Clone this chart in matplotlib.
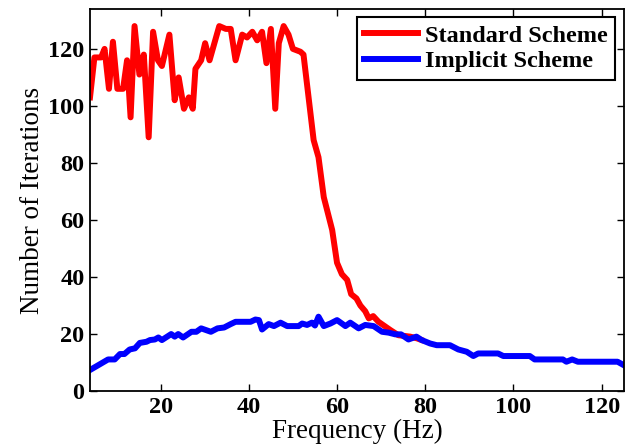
import numpy as np
import matplotlib.pyplot as plt

plt.rcParams['font.family'] = ['Liberation Serif', 'DejaVu Serif']
plt.rcParams['font.weight'] = 'bold'

# Standard scheme (red), vertices
std_freq = [4, 5, 6.5, 7.3, 8.3, 9.2, 10.2, 11.5, 12.4, 13.2, 14.1, 15.2, 16.2,
            17.3, 18.3, 19.4, 20.3, 22, 23.2, 24.1, 25.3, 26.4, 27.3, 27.9, 29.2,
            30.1, 31.1, 33.3, 34.8, 35.9, 37, 38.5, 39.6, 40.8, 41.9, 43, 44, 45,
            46, 46.8, 47.9, 49, 50, 51.7, 52.4, 54.7, 55.8, 57, 58.9, 60, 61.1,
            62.3, 63.2, 64.4, 65.3, 66.4, 67.2, 68.2, 69.4, 72.1, 73.9, 76.6,
            78.1, 79]
std_iter = [103, 117, 117, 120, 106, 122.5, 106, 106, 116, 96, 128, 111, 118,
            89, 126, 116, 114, 125, 102, 110, 99, 103, 99, 113, 116,
            122, 116, 128, 127, 127, 116, 125, 124, 126, 123, 126, 115, 127,
            99, 122, 128, 125, 120, 119, 118, 88, 82, 68, 56.5, 45, 41,
            39, 34, 32.5, 30, 28, 25.5, 26.3, 24.3, 21.4, 19.6, 19.1,
            18.5, 18]

# Implicit scheme (blue)
imp_freq = [4, 8.1, 9.6, 10.8, 11.8, 13, 14.2, 15.3, 16.8, 17.6, 18.7, 19.5,
            20.3, 22.4, 23.2, 24, 25.1, 27, 28.1, 29.2, 30.3, 31.4, 32.9, 34.4,
            35.9, 37, 40.4, 41.5, 42.3, 43, 44.5, 45.7, 47.2, 48.7, 51.3, 52.1,
            53.2, 54.3, 55, 55.8, 57, 58.5, 60, 61.1, 61.9, 63, 64.9, 66.4, 68.3,
            70.2, 71.7, 73.2, 74.5, 76.2, 78, 79.2, 81.1, 82.6, 85.6, 87.5, 89.4,
            90.9, 92, 96.5, 97.7, 103.7, 104.8, 111.2, 112, 113.3, 114.6, 123.6,
            125]
imp_iter = [7.4, 11.1, 11.1, 13, 13, 14.6, 15, 16.9, 17.3, 17.9, 18.1, 18.8,
            17.9, 20, 19.1, 20, 18.8, 20.8, 20.8, 22, 21.4, 20.8, 22, 22.3,
            23.5, 24.3, 24.3, 25.1, 24.9, 21.6, 23.5, 22.8, 24, 22.8, 22.8, 23.7,
            23.2, 24, 23, 26.1, 22.8, 23.7, 24.9, 23.7, 22.8, 24, 22, 23.2, 22.8,
            20.8, 20.5, 19.9, 19.9, 18.1, 19.1, 17.9, 16.7, 16.1, 16.1, 14.6, 13.8,
            12.3, 13.2, 13.2, 12.3, 12.3, 11.1, 11.1, 10.3, 11.1, 10.3, 10.3,
            9.1]

fig = plt.figure(figsize=(6.25, 4.48), dpi=100)
ax = fig.add_axes([0.144, 0.127, 0.854, 0.853])

ax.plot(std_freq, std_iter, color='red', linewidth=4.3, label='Standard Scheme')
ax.plot(imp_freq, imp_iter, color='blue', linewidth=4.3, label='Implicit Scheme')

ax.set_xlim(4, 125)
ax.set_ylim(0, 134)
ax.set_xticks([20, 40, 60, 80, 100, 120])
ax.set_yticks([0, 20, 40, 60, 80, 100, 120])
ax.tick_params(direction='in', top=True, right=True, labelsize=17.5, length=5,
               width=1, pad=4)
for s in ax.spines.values():
    s.set_linewidth(1.3)

ax.set_xlabel('Frequency (Hz)', fontsize=19.5, fontweight='normal', labelpad=1)
ax.set_ylabel('Number of Iterations', fontsize=19.5, fontweight='normal', labelpad=2)

leg = ax.legend(loc='upper right', fontsize=17.5, fancybox=False, edgecolor='black',
                framealpha=1, handlelength=2.2, handletextpad=0.3,
                borderaxespad=0.35, labelspacing=0.15, borderpad=0.3)
leg.get_frame().set_linewidth(1.5)

fig.savefig('out.png', dpi=100)
